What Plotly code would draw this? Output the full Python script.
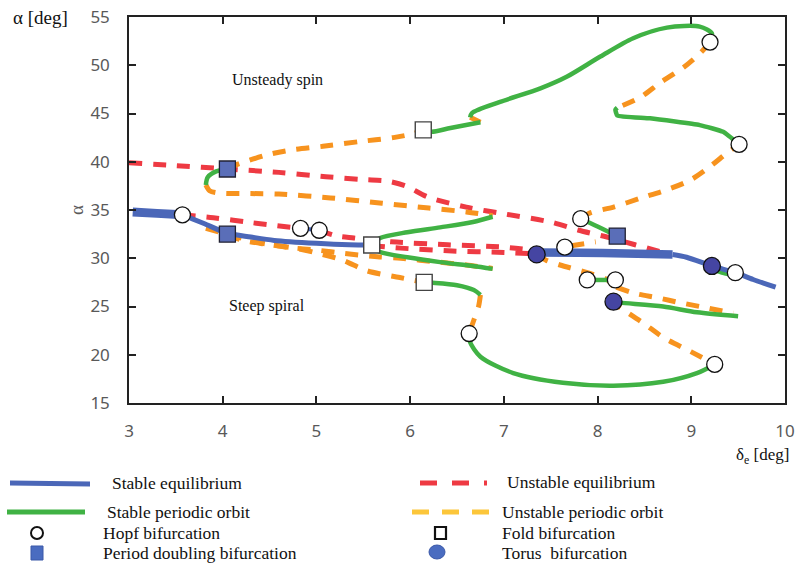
import plotly.graph_objects as go

# ---------------- data: elevator deflection (deg) vs angle of attack (deg) ----------------
# stable equilibrium branches
stab_eq_thick1_x = [3.04, 3.3, 3.57]
stab_eq_thick1_y = [34.8, 34.65, 34.5]
stab_eq_thin1_x = [3.57, 3.8, 4.05, 4.3, 4.55, 5.0, 5.35, 5.59]
stab_eq_thin1_y = [34.5, 33.6, 32.6, 32.2, 31.85, 31.55, 31.4, 31.37]
stab_eq_short_x = [4.83, 5.03]
stab_eq_short_y = [33.1, 32.9]
stab_eq_thick2_x = [7.35, 7.8, 8.3, 8.8]
stab_eq_thick2_y = [30.6, 30.58, 30.5, 30.38]
stab_eq_thin2_x = [8.8, 8.95, 9.22, 9.47, 9.66, 9.9]
stab_eq_thin2_y = [30.38, 30.1, 29.2, 28.5, 27.8, 27.0]

# unstable equilibrium branches
unst_eq_a_x = [3.0, 3.5, 4.05, 4.6, 5.1, 5.5, 5.75, 5.95, 6.2, 6.6, 7.0, 7.5, 7.8, 8.1, 8.4, 8.75]
unst_eq_a_y = [39.9, 39.6, 39.25, 38.9, 38.45, 38.15, 38.0, 37.5, 36.3, 35.3, 34.6, 33.75, 32.9, 32.2, 31.4, 30.45]
unst_eq_b_x = [3.57, 3.9, 4.3, 4.83]
unst_eq_b_y = [34.5, 34.2, 33.7, 33.1]
unst_eq_c_x = [5.03, 5.2, 5.4, 5.8, 6.4, 7.0, 7.35]
unst_eq_c_y = [32.9, 32.35, 32.1, 31.7, 31.4, 31.15, 30.8]
unst_eq_d_x = [5.59, 5.9, 6.45, 7.0, 7.35]
unst_eq_d_y = [31.3, 31.05, 30.75, 30.6, 30.45]

# stable periodic orbits
stab_po_hook_x = [4.05, 3.93, 3.84, 3.82]
stab_po_hook_y = [39.25, 39.0, 38.4, 37.6]
stab_po_up_x = [5.59, 5.68, 5.97, 6.32, 6.67, 6.88]
stab_po_up_y = [31.4, 32.1, 32.7, 33.2, 33.75, 34.3]
stab_po_low_x = [5.59, 5.68, 5.97, 6.32, 6.67, 6.88]
stab_po_low_y = [31.2, 30.65, 30.1, 29.6, 29.2, 28.9]
stab_po_fold_x = [6.15, 6.24, 6.5, 6.68, 6.75]
stab_po_fold_y = [27.5, 27.45, 27.2, 26.7, 26.2]
stab_po_loop_x = [6.63, 6.64, 6.75, 7.1, 7.63, 8.17, 8.7, 9.06, 9.25]
stab_po_loop_y = [22.2, 21.3, 19.8, 18.1, 17.1, 16.8, 17.2, 18.1, 19.0]
stab_po_pair_x = [7.89, 8.19]
stab_po_pair_y = [27.75, 27.75]
stab_po_pd_x = [7.82, 8.0, 8.21]
stab_po_pd_y = [34.1, 33.3, 32.3]
stab_po_torus_x = [8.17, 8.24, 8.7, 9.06, 9.5]
stab_po_torus_y = [25.5, 25.4, 25.0, 24.4, 24.0]
stab_po_right_x = [8.21, 8.19, 8.21, 8.56, 9.09, 9.34, 9.51]
stab_po_right_y = [45.6, 45.4, 44.8, 44.5, 43.8, 43.1, 41.8]
stab_po_top1_x = [6.14, 6.23, 6.43, 6.75]
stab_po_top1_y = [43.3, 43.1, 43.5, 44.1]
stab_po_top2_x = [6.64, 6.66, 6.96, 7.39, 7.67, 8.03, 8.38, 8.74, 9.09, 9.22, 9.2]
stab_po_top2_y = [44.6, 45.05, 46.2, 47.6, 48.8, 50.9, 52.8, 53.9, 54.0, 53.3, 52.4]
stab_po_small_x = [9.22, 9.35, 9.47]
stab_po_small_y = [29.0, 28.6, 28.4]

# unstable periodic orbits
unst_po_1_x = [4.05, 4.15, 4.47, 4.72, 5.07, 5.47, 5.82, 6.03, 6.14]
unst_po_1_y = [39.25, 39.7, 40.7, 41.2, 41.6, 42.1, 42.5, 42.9, 43.3]
unst_po_2_x = [3.82, 3.86, 3.97, 4.3, 4.6, 5.15, 5.7, 6.2, 6.6, 6.88]
unst_po_2_y = [37.6, 37.0, 36.75, 36.7, 36.65, 36.25, 35.7, 35.2, 34.8, 34.4]
unst_po_3_x = [4.05, 4.2, 4.47, 4.72, 5.0, 5.3, 5.65, 5.9, 6.3, 6.6, 6.88]
unst_po_3_y = [32.5, 31.9, 31.45, 31.1, 30.85, 30.5, 30.15, 30.0, 29.6, 29.3, 28.95]
unst_po_4_x = [3.82, 4.05, 4.4, 4.8, 5.0, 5.28, 5.54, 5.89, 6.15]
unst_po_4_y = [33.1, 32.5, 31.6, 31.0, 30.55, 29.8, 28.7, 28.0, 27.5]
unst_po_5_x = [6.75, 6.73, 6.68, 6.63]
unst_po_5_y = [26.2, 25.0, 23.6, 22.2]
unst_po_6_x = [7.35, 7.45, 7.6, 7.89, 8.1, 8.17, 8.17, 8.3, 8.5, 8.7, 9.0, 9.25]
unst_po_6_y = [30.4, 29.8, 29.3, 28.5, 27.8, 27.0, 25.5, 24.5, 23.2, 21.8, 20.3, 19.0]
unst_po_7_x = [8.2, 8.38, 8.64, 8.88, 9.17, 9.45]
unst_po_7_y = [27.0, 26.4, 25.9, 25.4, 24.85, 24.3]
unst_po_8_x = [7.82, 7.92, 8.17, 8.45, 8.74, 8.99, 9.2, 9.38, 9.51]
unst_po_8_y = [34.1, 34.7, 35.3, 36.2, 37.1, 38.1, 39.5, 40.9, 41.8]
unst_po_9_x = [9.2, 9.1, 8.92, 8.67, 8.46, 8.21]
unst_po_9_y = [52.4, 51.3, 49.8, 48.2, 46.7, 45.6]
unst_po_10_x = [6.75, 6.64]
unst_po_10_y = [44.1, 44.6]
unst_po_11_x = [7.72, 7.98]
unst_po_11_y = [31.3, 31.7]

# bifurcation points
hopf_x = [3.57, 4.83, 5.03, 6.63, 7.65, 7.82, 7.89, 8.19, 9.2, 9.51, 9.47, 9.25]
hopf_y = [34.5, 33.1, 32.9, 22.2, 31.15, 34.1, 27.75, 27.75, 52.4, 41.8, 28.5, 19.0]
fold_x = [5.59, 6.15, 6.14]
fold_y = [31.37, 27.5, 43.3]
pd_x = [4.05, 4.05, 8.21]
pd_y = [39.25, 32.5, 32.3]
torus_x = [7.35, 9.22, 8.17]
torus_y = [30.4, 29.2, 25.5]

x_ticks = [3, 4, 5, 6, 7, 8, 9, 10]
y_ticks = [15, 20, 25, 30, 35, 40, 45, 50, 55]

# ---------------- styling ----------------
BLUE = "#4B67B8"
GREEN = "#40B244"
RED = "#EE3A43"
ORANGE = "#F7931E"
YELLOW = "#FCC63A"
PD_FILL = "#5A6EB8"
TORUS_FILL = "#4545A2"
DASH = "13px,11px"
SERIF = "Liberation Serif"
SANS = "Noto Sans"

fig = go.Figure()


def curve(x, y, color, width, dash=None, smooth=0.8):
    fig.add_trace(go.Scatter(
        x=x, y=y, mode="lines", showlegend=False, hoverinfo="skip",
        line=dict(color=color, width=width, dash=dash, shape="spline", smoothing=smooth),
    ))


# unstable equilibria
for xs, ys in [(unst_eq_a_x, unst_eq_a_y), (unst_eq_b_x, unst_eq_b_y),
               (unst_eq_c_x, unst_eq_c_y), (unst_eq_d_x, unst_eq_d_y)]:
    curve(xs, ys, RED, 5, DASH)

# unstable periodic orbits
for xs, ys in [(unst_po_1_x, unst_po_1_y), (unst_po_2_x, unst_po_2_y),
               (unst_po_3_x, unst_po_3_y), (unst_po_4_x, unst_po_4_y),
               (unst_po_5_x, unst_po_5_y), (unst_po_6_x, unst_po_6_y),
               (unst_po_7_x, unst_po_7_y), (unst_po_8_x, unst_po_8_y),
               (unst_po_9_x, unst_po_9_y), (unst_po_10_x, unst_po_10_y),
               (unst_po_11_x, unst_po_11_y)]:
    curve(xs, ys, ORANGE, 5, DASH)

# stable periodic orbits
for xs, ys in [(stab_po_hook_x, stab_po_hook_y), (stab_po_up_x, stab_po_up_y),
               (stab_po_low_x, stab_po_low_y), (stab_po_fold_x, stab_po_fold_y),
               (stab_po_loop_x, stab_po_loop_y), (stab_po_pair_x, stab_po_pair_y),
               (stab_po_pd_x, stab_po_pd_y), (stab_po_torus_x, stab_po_torus_y),
               (stab_po_top1_x, stab_po_top1_y), (stab_po_top2_x, stab_po_top2_y)]:
    curve(xs, ys, GREEN, 4.5)
curve(stab_po_right_x, stab_po_right_y, GREEN, 4.5, smooth=0.4)
curve(stab_po_small_x, stab_po_small_y, GREEN, 7)

# stable equilibria
curve(stab_eq_thick1_x, stab_eq_thick1_y, BLUE, 9)
curve(stab_eq_thin1_x, stab_eq_thin1_y, BLUE, 5)
curve(stab_eq_short_x, stab_eq_short_y, BLUE, 4)
curve(stab_eq_thick2_x, stab_eq_thick2_y, BLUE, 8.5)
curve(stab_eq_thin2_x, stab_eq_thin2_y, BLUE, 5)

# bifurcation markers
fig.add_trace(go.Scatter(x=hopf_x, y=hopf_y, mode="markers", showlegend=False, hoverinfo="skip",
                         marker=dict(symbol="circle", size=16, color="white",
                                     line=dict(color="#111111", width=1.3))))
fig.add_trace(go.Scatter(x=fold_x, y=fold_y, mode="markers", showlegend=False, hoverinfo="skip",
                         marker=dict(symbol="square", size=16, color="white",
                                     line=dict(color="#444444", width=1.4))))
fig.add_trace(go.Scatter(x=pd_x, y=pd_y, mode="markers", showlegend=False, hoverinfo="skip",
                         marker=dict(symbol="square", size=16, color=PD_FILL,
                                     line=dict(color="#222233", width=1.3))))
fig.add_trace(go.Scatter(x=torus_x, y=torus_y, mode="markers", showlegend=False, hoverinfo="skip",
                         marker=dict(symbol="circle", size=17, color=TORUS_FILL,
                                     line=dict(color="#111111", width=1.3))))

# ---------------- layout ----------------
W, H = 803, 564
L, R, T, B = 129, 785, 17, 403


def px_x(p):
    return (p - L) / (R - L)


def px_y(p):
    return (B - p) / (B - T)


axis_common = dict(
    showline=True, linecolor="#222222", linewidth=1.5, mirror="ticks",
    ticks="inside", ticklen=7, tickwidth=1.5, tickcolor="#222222",
    showgrid=False, zeroline=False, automargin=False,
    tickfont=dict(family=SANS, size=17, color="#595959"),
)

fig.update_layout(
    width=W, height=H,
    margin=dict(l=L, r=W - R, t=T, b=H - B, autoexpand=False),
    paper_bgcolor="white", plot_bgcolor="white",
    xaxis=dict(range=[3, 10], tickvals=x_ticks, ticklabelstandoff=12, **axis_common),
    yaxis=dict(range=[15, 55], tickvals=y_ticks, ticklabelstandoff=14, **axis_common),
)

annotations = [
    dict(x=px_x(11), y=px_y(17), text="α [deg]", xanchor="left", yanchor="middle",
         font=dict(family=SERIF, size=19, color="#111111")),
    dict(x=px_x(76), y=0.5, text="α", textangle=-90, xanchor="center", yanchor="middle",
         font=dict(family=SERIF, size=19, color="#595959")),
    dict(x=px_x(791), y=px_y(456), text="δ<sub>e</sub> [deg]", xanchor="right", yanchor="middle",
         font=dict(family=SERIF, size=17, color="#111111")),
    dict(x=4.08, y=48.5, xref="x", yref="y", text="Unsteady spin", xanchor="left", yanchor="middle",
         font=dict(family=SERIF, size=16, color="#111111")),
    dict(x=4.05, y=25.05, xref="x", yref="y", text="Steep spiral", xanchor="left", yanchor="middle",
         font=dict(family=SERIF, size=16, color="#111111")),
]

# legend block below the axes
legend_items = [
    (110, 483, "Stable equilibrium"),
    (105, 512, "Stable periodic orbit"),
    (101, 533, "Hopf bifurcation"),
    (101, 553, "Period doubling bifurcation"),
    (505, 482, "Unstable equilibrium"),
    (500, 512, "Unstable periodic orbit"),
    (500, 533, "Fold bifurcation"),
    (500, 553, "Torus  bifurcation"),
]
for lx, ly, txt in legend_items:
    annotations.append(dict(x=px_x(lx), y=px_y(ly), text=txt, xanchor="left", yanchor="middle",
                            font=dict(family=SERIF, size=17.5, color="#111111")))

for a in annotations:
    a["showarrow"] = False
    a.setdefault("xref", "paper")
    a.setdefault("yref", "paper")

shapes = [
    dict(type="line", x0=px_x(10), x1=px_x(90), y0=px_y(483), y1=px_y(484),
         line=dict(color=BLUE, width=5)),
    dict(type="line", x0=px_x(7), x1=px_x(85), y0=px_y(512), y1=px_y(512),
         line=dict(color=GREEN, width=5)),
    dict(type="line", x0=px_x(420), x1=px_x(488), y0=px_y(483), y1=px_y(483),
         line=dict(color=RED, width=5, dash="17px,15px,17px,15px,3px,60px")),
    dict(type="line", x0=px_x(412), x1=px_x(489), y0=px_y(512), y1=px_y(512),
         line=dict(color=YELLOW, width=5, dash="17px,13px")),
    dict(type="circle", x0=px_x(31), x1=px_x(43), y0=px_y(527), y1=px_y(539),
         line=dict(color="#111111", width=2), fillcolor="white"),
    dict(type="rect", x0=px_x(31), x1=px_x(43), y0=px_y(546), y1=px_y(560),
         line=dict(color="#3A58A8", width=1), fillcolor="#4A6CC0"),
    dict(type="rect", x0=px_x(435), x1=px_x(446), y0=px_y(527), y1=px_y(539),
         line=dict(color="#111111", width=2.2), fillcolor="white"),
    dict(type="circle", x0=px_x(429), x1=px_x(445), y0=px_y(545), y1=px_y(559),
         line=dict(color="#3A58A8", width=1), fillcolor="#4A6CC0"),
]
for s in shapes:
    s.update(xref="paper", yref="paper")

fig.update_layout(annotations=annotations, shapes=shapes)

fig.write_html("out.html")
